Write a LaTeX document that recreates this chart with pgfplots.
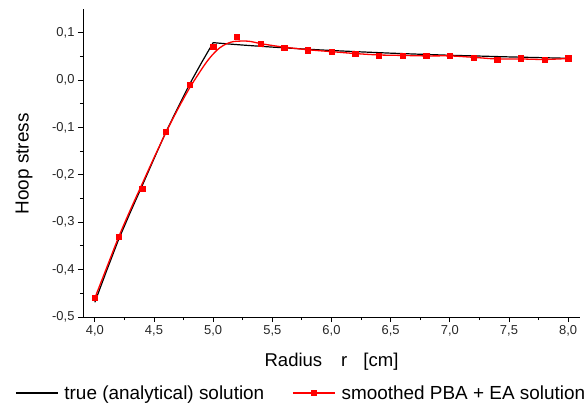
\documentclass[border=0pt]{standalone}
\usepackage{pgfplots}
\pgfplotsset{compat=1.18}
\usepackage{fontspec}
\setmainfont{Liberation Sans}

\pgfplotstableread{
x y
4.0 -0.46
4.2 -0.33
4.4 -0.23
4.6 -0.109
4.8 -0.009
5.0 0.071
5.2 0.091
5.4 0.076
5.6 0.069
5.8 0.063
6.0 0.060
6.2 0.056
6.4 0.052
6.6 0.052
6.8 0.051
7.0 0.052
7.2 0.048
7.4 0.043
7.6 0.046
7.8 0.043
8.0 0.046
}\pointsdata

\pgfplotstableread{
x y
4.0 -0.460
4.1 -0.396
4.2 -0.332
4.3 -0.274
4.4 -0.219
4.5 -0.164
4.6 -0.111
4.7 -0.062
4.8 -0.017
4.9 0.022
4.95 0.040
5.0 0.055
5.05 0.067
5.1 0.075
5.15 0.080
5.2 0.082
5.3 0.082
5.4 0.077
5.5 0.073
5.6 0.0695
5.8 0.064
6.0 0.060
6.2 0.056
6.4 0.053
6.6 0.052
6.8 0.051
7.0 0.051
7.2 0.048
7.4 0.0445
7.6 0.0445
7.8 0.0435
8.0 0.0455
}\smoothdata

\pgfplotstableread{
x y
4.0 -0.469
4.1 -0.402
4.2 -0.337
4.3 -0.279
4.4 -0.223
4.5 -0.166
4.6 -0.110
4.7 -0.059
4.8 -0.009
4.9 0.036
5.0 0.079
5.125 0.0763
5.25 0.0739
5.375 0.0717
5.5 0.0696
5.75 0.0658
6.0 0.0624
6.25 0.0595
6.5 0.0568
6.75 0.0545
7.0 0.0524
7.5 0.0489
8.0 0.0460
}\truedata

\begin{document}
\begin{tikzpicture}
\useasboundingbox (0,0) rectangle (587bp,406bp);
\begin{axis}[
  at={(83bp,89bp)}, anchor=south west,
  scale only axis, width=497bp, height=308bp,
  xmin=3.9, xmax=8.1, ymin=-0.5, ymax=0.15,
  axis x line*=bottom, axis y line*=left,
  axis line style={line width=0.9bp, -},
  xtick={4,4.5,5,5.5,6,6.5,7,7.5,8},
  ytick={-0.5,-0.4,-0.3,-0.2,-0.1,0,0.1},
  minor x tick num=1, minor y tick num=1,
  tick align=outside, major tick length=5bp, minor tick length=3bp,
  every tick/.style={line width=0.9bp, black},
  /pgf/number format/use comma,
  /pgf/number format/fixed,
  /pgf/number format/fixed zerofill,
  /pgf/number format/precision=1,
  /pgf/number format/assume math mode=true,
  tick label style={font=\fontsize{13}{15}\selectfont, color={black!85}},
  xlabel={Radius\hspace{19bp}r\hspace{16bp}[cm]},
  xlabel style={font=\fontsize{18.6}{22}\selectfont, at={(axis description cs:0.5,-0.1623)}, anchor=base},
  ylabel={Hoop stress},
  ylabel style={font=\fontsize{19}{22}\selectfont, at={(axis description cs:-0.1187,0.497)}, anchor=center},
  legend columns=2,
  legend style={at={(axis description cs:-0.1368,-0.2468)}, anchor=west, draw=none, fill=none,
    inner sep=0pt, nodes={inner sep=0pt}, font=\fontsize{19}{22}\selectfont,
    /tikz/every odd column/.append style={column sep=6bp},
    /tikz/every even column/.append style={column sep=28bp}},
  legend cell align=left,
  legend image code/.code={\draw[mark repeat=2,mark phase=2,#1] plot coordinates {(0bp,0bp) (21bp,0bp) (42bp,0bp)};},
]
\addplot[black, line width=1.2bp] table {\truedata};
\addlegendentry{true (analytical) solution}
\addplot[red, line width=1.3bp, smooth, tension=0.5, forget plot] table {\smoothdata};
\addplot[only marks, red, mark=square*, mark size=2.6bp, forget plot] table {\pointsdata};
\addlegendimage{red, line width=1.3bp, mark=square*, mark size=2.2bp}
\addlegendentry{smoothed PBA + EA solution}
\end{axis}
\end{tikzpicture}
\end{document}
